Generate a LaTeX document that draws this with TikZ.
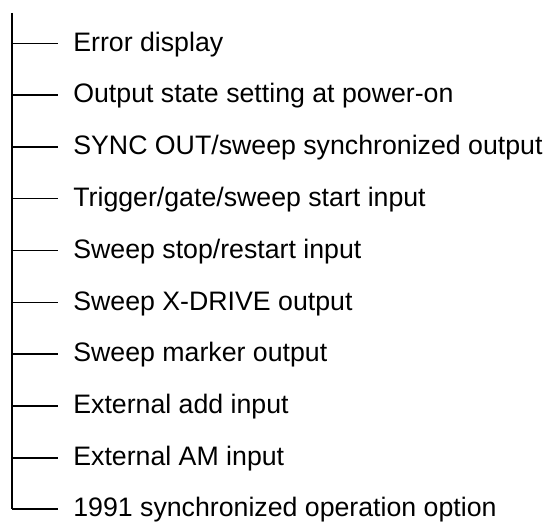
\documentclass[tikz,border=0pt]{standalone}
\usepackage{fontspec}
\setmainfont{Liberation Sans}
\usetikzlibrary{positioning}

\tikzset{
	item/.style={anchor=west, inner ysep=0pt, inner xsep=0.3cm, text height=0.31cm, text depth=0pt, font=\fontsize{15.2}{18}\selectfont},
	branch/.style={line width=0.9pt},
}

\begin{document}
\begin{tikzpicture}
	\useasboundingbox (0,0) rectangle (10.92,10.44);

	% Trunk
	\coordinate (top) at (0.24, 10.18);
	\coordinate (bot) at (0.24, 0.26);
	\draw[line width=1.1pt] (top) -- (bot);

	% Labels, from top to bottom
	\node[item] (err) at (1.16, 9.574) {Error display};
	\node[item] (pwr) at (1.16, 8.538) {Output state setting at power-on};
	\node[item] (sync) at (1.16, 7.502) {SYNC OUT/sweep synchronized output};
	\node[item] (trig) at (1.16, 6.466) {Trigger/gate/sweep start input};
	\node[item] (stop) at (1.16, 5.430) {Sweep stop/restart input};
	\node[item] (xdrv) at (1.16, 4.394) {Sweep X-DRIVE output};
	\node[item] (mark) at (1.16, 3.358) {Sweep marker output};
	\node[item] (add) at (1.16, 2.322) {External add input};
	\node[item] (am) at (1.16, 1.286) {External AM input};
	\node[item] (opt) at (1.16, 0.260) {1991 synchronized operation option};

	% Branches
	\draw[branch] (err.west -| top) -- (err.west);
	\draw[branch] (pwr.west -| top) -- (pwr.west);
	\draw[branch] (sync.west -| top) -- (sync.west);
	\draw[branch] (trig.west -| top) -- (trig.west);
	\draw[branch] (stop.west -| top) -- (stop.west);
	\draw[branch] (xdrv.west -| top) -- (xdrv.west);
	\draw[branch] (mark.west -| top) -- (mark.west);
	\draw[branch] (add.west -| top) -- (add.west);
	\draw[branch] (am.west -| top) -- (am.west);
	\draw[branch] (bot) -- (opt.west);
\end{tikzpicture}
\end{document}
